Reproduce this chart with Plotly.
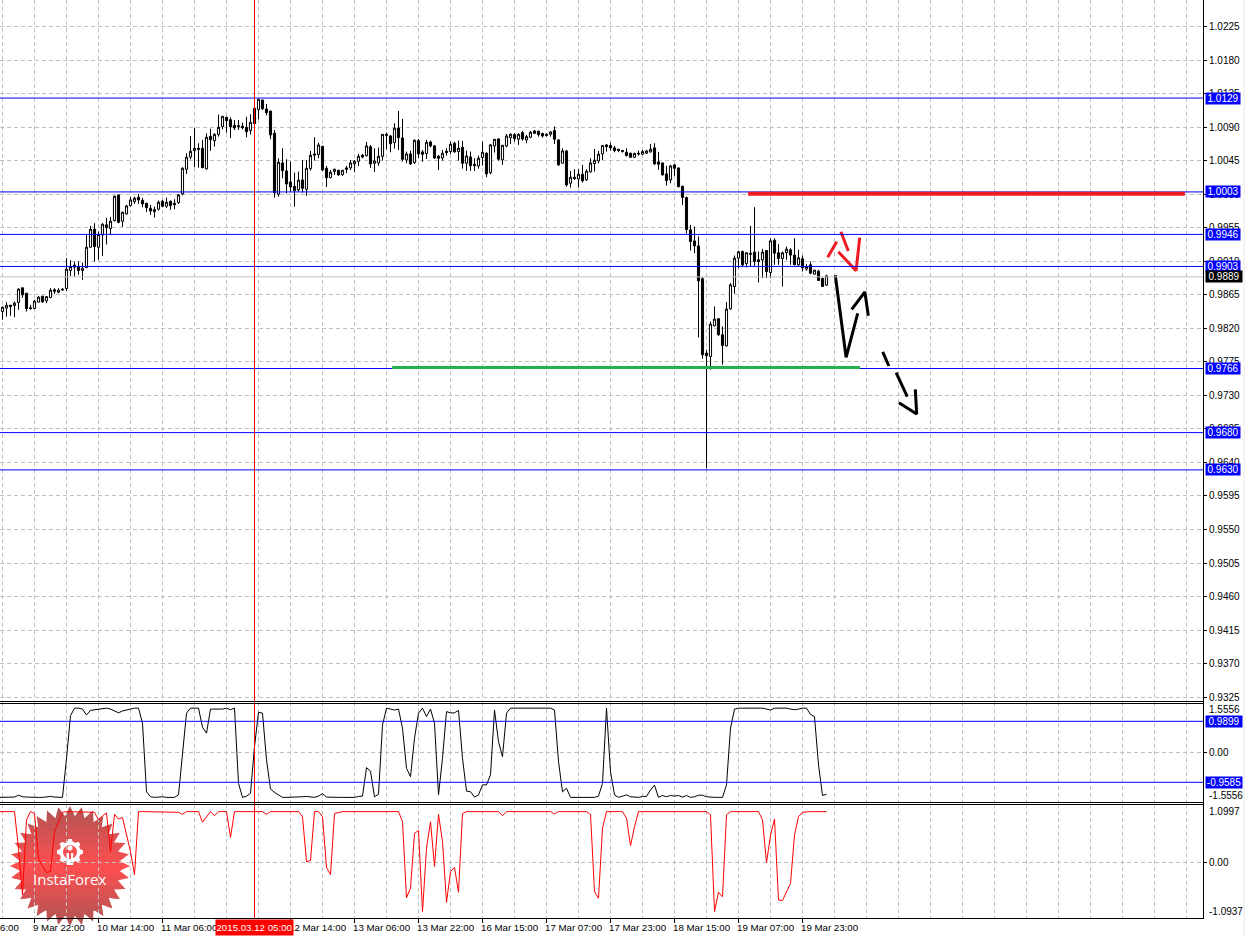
import math
import plotly.graph_objects as go

# ---- Quotes, hourly candles, in 1/10000 of a price unit ----
opens = [
9842.5,9847.0,9851.0,9850.6,9854.6,9874.3,9867.1,9847.5,9846.6,9855.1,
9863.1,9856.8,9861.3,9871.6,9868.5,9872.5,9873.4,9897.5,9904.7,9902.4,
9897.5,9901.5,9928.8,9952.9,9928.8,9945.3,9958.8,9953.8,9964.6,9999.0,
9963.7,9973.5,9984.7,9990.0,9995.9,9991.8,9987.8,9981.1,9976.6,9979.8,
9990.5,9983.8,9990.5,9987.8,9988.7,10000.3,10033.4,10049.9,10058.4,10061.6,
10061.6,10033.9,10077.7,10071.8,10079.9,10090.6,10103.1,10100.0,10092.4,10092.0,
10091.1,10089.7,10085.3,10115.2,10113.4,10126.4,10114.3,10111.6,10081.7,9999.9,
10041.9,10031.2,10016.4,10010.6,10005.7,10019.1,10006.6,10034.3,10054.0,10053.1,
10064.3,10034.8,10022.2,10030.3,10032.1,10026.3,10035.2,10035.2,10040.6,10044.1,
10052.2,10051.7,10063.8,10041.5,10041.9,10050.8,10080.3,10078.1,10069.2,10088.8,
10075.4,10045.9,10054.0,10042.4,10071.9,10056.7,10054.4,10070.1,10064.7,10050.8,
10048.6,10057.6,10057.1,10068.3,10057.1,10062.9,10041.5,10050.0,10040.1,10037.9,
10049.1,10054.9,10029.0,10064.7,10074.1,10046.0,10064.7,10075.9,10079.9,10073.7,
10082.6,10072.8,10076.4,10084.8,10084.4,10081.3,10080.4,10080.4,10085.3,10072.8,
10041.5,10058.0,10014.7,10022.7,10020.5,10026.7,10019.2,10029.9,10041.1,10044.6,
10054.0,10066.1,10065.2,10062.1,10060.3,10058.5,10056.3,10054.9,10049.5,10054.9,
10053.6,10054.9,10056.7,10062.1,10043.3,10041.9,10027.2,10019.2,10039.3,10035.2,
10010.7,9995.5,9952.1,9937.3,9930.6,9886.4,9786.7,9782.2,9823.4,9832.8,
9811.3,9796.5,9846.2,9876.1,9914.1,9923.0,9907.0,9919.0,9922.2,9911.9,
9911.9,9924.4,9894.9,9938.2,9921.3,9913.7,9921.7,9925.3,9918.2,9905.2,
9913.2,9899.4,9905.2,9892.6,9896.7,9886.8,9877.9]
highs = [
9849.2,9855.1,9851.0,9855.9,9873.8,9874.3,9867.1,9851.5,9858.2,9863.1,
9863.5,9862.6,9873.8,9873.8,9873.8,9873.8,9914.1,9911.4,9909.6,9909.6,
9908.2,9946.2,9957.4,9961.0,9949.8,9961.0,9968.1,9969.5,9998.1,9999.0,
9976.6,9985.6,9995.9,9996.7,10000.3,9995.0,9988.3,9985.6,9983.3,9991.4,
9992.3,9995.4,9991.4,9993.2,10000.3,10036.1,10054.9,10078.1,10088.8,10068.3,
10072.7,10081.7,10087.9,10081.7,10106.7,10104.9,10104.0,10103.1,10099.6,10099.6,
10096.0,10104.0,10107.2,10115.7,10127.7,10126.4,10121.0,10111.6,10086.2,10048.2,
10061.6,10046.8,10043.7,10028.9,10030.3,10045.9,10045.9,10058.0,10076.3,10069.2,
10064.7,10037.9,10032.5,10034.3,10032.5,10032.5,10037.9,10045.9,10045.9,10054.0,
10054.0,10070.1,10066.0,10061.6,10062.5,10080.8,10082.6,10079.5,10095.1,10111.6,
10100.9,10057.1,10058.4,10073.6,10074.1,10059.3,10072.8,10071.9,10066.0,10052.6,
10059.3,10061.6,10070.5,10070.5,10071.9,10071.4,10058.4,10057.1,10048.2,10051.7,
10070.5,10056.2,10067.4,10074.1,10075.0,10066.1,10080.8,10081.7,10081.7,10081.7,
10084.8,10079.5,10084.8,10086.2,10085.3,10082.6,10081.7,10084.4,10090.7,10073.7,
10061.6,10059.4,10031.2,10033.5,10033.5,10039.3,10033.5,10048.2,10060.7,10058.0,
10066.1,10067.4,10069.2,10064.7,10060.7,10059.4,10061.6,10055.8,10055.8,10058.5,
10059.4,10059.4,10067.4,10068.3,10056.7,10042.4,10037.9,10039.3,10040.2,10035.7,
10011.1,9996.8,9958.8,9956.6,9943.2,9888.6,9791.2,9829.2,9849.3,9833.6,
9822.5,9855.1,9880.6,9917.7,9924.4,9924.4,9922.2,9957.5,9982.5,9923.0,
9926.6,9924.4,9940.9,9940.9,9933.3,9923.0,9929.7,9927.5,9940.9,9925.3,
9917.7,9906.5,9909.6,9898.5,9898.5,9888.2,9891.8]
lows = [
9831.4,9835.8,9836.7,9834.9,9844.8,9860.9,9842.5,9844.8,9846.6,9854.6,
9854.2,9853.7,9860.4,9866.2,9867.1,9870.7,9869.8,9890.4,9889.5,9891.7,
9885.0,9901.5,9928.4,9909.6,9911.8,9917.2,9932.4,9945.8,9963.2,9961.0,
9956.1,9972.6,9983.3,9986.9,9986.9,9982.4,9976.2,9972.2,9968.6,9978.0,
9982.4,9981.6,9978.9,9979.8,9986.9,9998.5,10027.1,10046.8,10036.1,10035.6,
10034.7,10033.0,10058.4,10063.8,10077.2,10087.0,10082.6,10075.4,10086.2,10086.2,
10087.0,10076.3,10079.9,10094.6,10100.5,10113.0,10105.8,10073.6,9995.4,9996.7,
10021.3,10001.2,10003.5,9983.3,10003.5,10002.1,9997.7,10031.6,10045.0,10048.2,
10031.2,10009.7,10021.3,10025.8,10024.9,10024.5,10028.0,10032.5,10029.4,10037.9,
10048.2,10050.4,10035.2,10029.8,10037.9,10045.0,10060.2,10056.2,10061.1,10059.3,
10043.7,10041.5,10039.2,10040.6,10048.2,10043.7,10047.3,10062.9,10047.3,10032.5,
10045.0,10051.7,10054.0,10055.8,10045.0,10034.3,10031.2,10031.2,10031.2,10034.3,
10038.4,10022.7,10026.7,10055.8,10045.1,10039.3,10062.9,10067.4,10070.5,10066.1,
10071.9,10068.3,10075.0,10080.8,10077.2,10075.9,10077.2,10077.2,10067.4,10037.9,
10041.5,10010.2,10008.9,10019.2,10008.9,10015.6,10017.8,10029.0,10030.3,10041.5,
10046.0,10057.1,10058.5,10056.3,10056.7,10055.8,10050.4,10049.1,10048.7,10051.8,
10052.7,10054.0,10055.8,10039.3,10032.6,10025.0,10011.6,10014.7,10024.5,10008.9,
9985.6,9947.2,9924.4,9920.8,9807.7,9779.1,9632.0,9764.4,9822.5,9810.0,
9771.1,9795.6,9844.8,9866.3,9900.7,9902.9,9901.6,9902.9,9903.8,9881.5,
9887.3,9887.3,9887.3,9905.2,9905.2,9876.1,9911.9,9905.2,9905.2,9902.9,
9896.2,9897.2,9892.6,9891.8,9884.2,9876.1,9877.0]
closes = [
9848.3,9851.0,9849.2,9853.7,9872.5,9864.9,9846.6,9846.6,9856.4,9861.8,
9855.5,9862.6,9871.1,9869.8,9871.1,9871.6,9899.3,9902.9,9902.0,9897.5,
9900.6,9928.8,9952.9,9929.7,9945.8,9959.6,9955.2,9963.7,9997.2,9962.3,
9975.7,9984.2,9992.3,9994.5,9992.3,9986.9,9982.0,9977.5,9979.3,9989.2,
9983.8,9989.2,9984.7,9986.0,9999.0,10034.7,10049.5,10057.5,10061.6,10060.2,
10035.6,10076.3,10073.2,10080.3,10089.7,10104.5,10098.7,10090.6,10088.8,10090.6,
10089.3,10083.9,10096.4,10094.6,10127.3,10114.8,10109.4,10079.4,10002.1,10042.8,
10031.6,10013.7,10009.7,10004.8,10018.7,10007.9,10034.8,10052.2,10052.6,10066.0,
10032.5,10022.2,10029.4,10033.4,10025.8,10032.1,10033.4,10041.9,10044.1,10050.8,
10050.0,10064.7,10040.6,10044.6,10050.8,10080.3,10079.0,10067.8,10088.4,10075.9,
10046.8,10054.0,10040.6,10072.3,10054.0,10053.5,10069.6,10064.7,10048.6,10048.2,
10054.9,10055.8,10066.9,10056.7,10061.6,10041.5,10051.3,10038.3,10038.3,10048.2,
10056.2,10027.2,10066.1,10073.7,10046.9,10065.6,10078.1,10080.4,10074.6,10080.4,
10074.1,10077.2,10083.1,10081.7,10079.9,10078.1,10079.0,10083.5,10073.7,10039.3,
10058.0,10012.4,10022.7,10020.9,10026.7,10017.8,10030.8,10041.9,10045.5,10053.6,
10065.2,10063.8,10062.1,10058.5,10058.5,10057.6,10051.8,10049.5,10054.5,10054.0,
10057.1,10058.0,10060.3,10040.6,10040.2,10025.9,10018.3,10037.9,10034.8,10010.2,
9995.5,9952.5,9936.5,9930.6,9883.7,9784.5,9783.2,9825.6,9832.3,9811.3,
9797.0,9845.7,9878.3,9914.1,9922.6,9905.2,9921.3,9920.8,9909.6,9909.6,
9922.2,9896.2,9937.3,9920.8,9913.7,9921.3,9926.2,9918.2,9905.2,9914.6,
9901.2,9902.9,9894.0,9898.0,9884.2,9876.1,9890.4]

# ---- Upper indicator (black); starts one candle left of the first visible one ----
indicator_black = [
-1.44,
-1.44,-1.44,-1.44,-1.43,-1.37,-1.42,-1.43,-1.44,-1.44,-1.44,
-1.44,-1.43,-1.41,-1.43,-1.44,-1.44,-0.19,1.17,1.41,1.41,
1.38,1.19,1.34,1.36,1.36,1.38,1.41,1.38,1.33,1.26,
1.32,1.35,1.38,1.41,1.41,0.93,-1.26,-1.42,-1.44,-1.42,
-1.42,-1.44,-1.44,-1.44,-1.36,-0.03,1.25,1.41,1.41,1.41,
0.80,0.61,1.38,1.38,1.38,1.38,1.41,1.36,1.41,-0.99,
-1.44,-1.40,-1.31,0.18,1.28,1.25,-0.24,-1.17,-1.28,-1.36,
-1.44,-1.44,-1.44,-1.44,-1.44,-1.42,-1.41,-1.42,-1.44,-1.40,
-1.32,-1.43,-1.44,-1.44,-1.44,-1.44,-1.44,-1.44,-1.44,-1.41,
-1.40,-0.49,-0.60,-1.42,-1.34,0.87,1.41,1.38,1.35,1.38,
0.77,-0.51,-0.78,0.45,1.25,1.41,1.14,1.38,0.93,-1.36,
-0.19,1.30,1.26,1.26,1.34,-0.19,-1.24,-1.26,-1.43,-1.36,
-1.04,-1.04,-0.72,1.35,0.34,-0.14,1.25,1.41,1.41,1.41,
1.41,1.41,1.41,1.41,1.41,1.41,1.41,1.41,1.35,-0.30,
-1.26,-1.15,-1.44,-1.44,-1.44,-1.44,-1.44,-1.44,-1.44,-1.40,
-0.99,1.41,-0.62,-1.36,-1.44,-1.40,-1.36,-1.42,-1.44,-1.44,
-1.41,-1.41,-1.20,-1.05,-1.44,-1.38,-1.42,-1.38,-1.40,-1.38,
-1.43,-1.38,-1.44,-1.42,-1.37,-1.37,-1.42,-1.44,-1.44,-1.44,
-1.44,-1.04,0.77,1.38,1.41,1.41,1.41,1.41,1.41,1.41,
1.41,1.38,1.35,1.41,1.41,1.41,1.41,1.38,1.36,1.38,
1.41,1.41,1.21,1.14,-0.40,-1.38,-1.34]

# ---- Lower indicator (red); same start ----
indicator_red = [
1.10,
1.10,1.10,1.10,1.10,0.30,-0.71,0.92,1.10,1.06,0.09,
-0.09,-0.22,-0.20,0.67,0.88,1.085,1.10,1.10,1.085,1.085,
1.10,1.085,1.10,1.085,0.92,1.01,1.07,0.23,1.04,0.94,
0.97,0.59,0.23,-0.27,1.10,1.10,1.10,1.10,1.10,1.10,
1.10,1.10,1.10,1.10,1.085,1.04,1.10,1.10,1.10,1.10,
0.87,0.99,1.10,1.01,1.10,1.10,1.10,0.54,1.10,1.10,
1.10,1.10,1.10,1.10,1.10,1.10,1.04,1.10,1.10,1.10,
1.10,1.10,1.10,1.10,1.10,0.99,0.01,0.04,1.10,1.10,
0.99,-0.11,-0.27,1.06,1.08,1.10,1.10,1.10,1.10,1.10,
1.10,1.10,1.10,1.10,1.10,1.10,1.10,1.10,1.10,1.10,
0.88,-0.77,-0.56,0.63,0.69,-1.07,0.30,0.88,-0.09,1.04,
0.45,-0.87,-0.20,-0.11,-0.65,1.06,1.10,1.10,1.10,1.10,
1.10,1.10,1.10,1.10,1.10,1.01,1.10,1.10,1.10,1.10,
1.10,1.10,1.10,1.10,1.10,1.10,1.10,1.10,1.05,1.10,
1.10,1.10,1.10,1.10,1.10,1.10,1.10,1.04,-0.64,-0.78,
0.74,1.10,1.10,1.10,1.10,1.10,0.955,0.36,0.77,1.10,
1.10,1.10,1.10,1.085,1.10,1.10,1.10,1.10,1.10,1.10,
1.10,1.10,1.10,1.10,1.10,1.10,1.10,1.03,-1.07,-0.65,
-0.75,1.03,1.10,1.10,1.10,1.10,1.10,1.10,1.10,1.10,
0.92,-0.01,0.59,0.94,-0.82,-0.83,-0.64,-0.46,0.59,0.99,
1.085,1.10,1.10,1.10,1.10,1.10,1.10]

# ---- Horizontal levels and labels ----
blue_levels = [1.0129, 1.0003, 0.9946, 0.9903, 0.9766, 0.9680, 0.9630]
blue_labels = ["1.0129", "1.0003", "0.9946", "0.9903", "0.9766", "0.9680", "0.9630"]
bid_level, bid_label = 0.9889, "0.9889"
black_levels = [0.9899, -0.9585]
black_labels = ["0.9899", "-0.9585"]

# ---- Hand-drawn marks: (candle number, price) ----
red_bar = ([186.4, 295.6], [1.00007, 1.00007])
green_bar = ([97.4, 214.4], [0.97674, 0.97674])
black_strokes = [
    ([208.2, 210.9, 211.4, 213.8], [0.98911, 0.97811, 0.97909, 0.98401]),
    ([212.3, 215.6, 216.45], [0.98455, 0.98687, 0.98369]),
    ([220.05, 221.6], [0.97882, 0.97694]),
    ([223.4, 226.2], [0.97604, 0.97282]),
    ([224.1, 228.55, 228.2], [0.97201, 0.97050, 0.97381]),
]
red_strokes = [
    ([206.3, 208.55], [0.99153, 0.99362]),
    ([209.6, 211.45], [0.99496, 0.99237]),
    ([208.95, 213.4, 214.3], [0.99228, 0.98973, 0.99416]),
]

# ---- Time axis ----
time_ticks = [8, 24, 40, 72, 88, 104, 120, 136, 152, 168, 184, 200]
time_labels = ["9 Mar 22:00", "10 Mar 14:00", "11 Mar 06:00", "12 Mar 14:00", "13 Mar 06:00",
               "13 Mar 22:00", "16 Mar 15:00", "17 Mar 07:00", "17 Mar 23:00", "18 Mar 15:00",
               "19 Mar 07:00", "19 Mar 23:00"]
cursor_index, cursor_label = 63, "2015.03.12 05:00"

# ---- Layout constants (pixels of the 1245x936 page) ----
W, H = 1245, 936
PLOT_R = 1203
FONT = "Liberation Sans"
GRID = "#c0c0c0"
BLUE = "#0000ff"
RED = "#ed1c24"
GREEN = "#22b14c"


def px(x):
    return x / W


def py(y):
    return 1 - y / H


n = len(closes)
idx = list(range(n))
ind_x = [-1] + idx
fig = go.Figure()
fig.add_trace(go.Candlestick(
    x=idx,
    open=[v / 10000 for v in opens], high=[v / 10000 for v in highs],
    low=[v / 10000 for v in lows], close=[v / 10000 for v in closes],
    increasing=dict(line=dict(color="black", width=1), fillcolor="white"),
    decreasing=dict(line=dict(color="black", width=1), fillcolor="black"),
    whiskerwidth=0, xaxis="x", yaxis="y", showlegend=False))
for sx, sy in black_strokes:
    fig.add_trace(go.Scatter(x=sx, y=sy, mode="lines", line=dict(color="black", width=3),
                             xaxis="x", yaxis="y", showlegend=False))
for sx, sy in red_strokes:
    fig.add_trace(go.Scatter(x=sx, y=sy, mode="lines", line=dict(color=RED, width=3),
                             xaxis="x", yaxis="y", showlegend=False))
fig.add_trace(go.Scatter(x=ind_x, y=indicator_black, mode="lines", line=dict(color="black", width=1),
                         xaxis="x", yaxis="y2", showlegend=False))
fig.add_trace(go.Scatter(x=ind_x, y=indicator_red, mode="lines", line=dict(color="#ff0000", width=1),
                         xaxis="x", yaxis="y3", showlegend=False))

# ---- Watermark badge: a star with a vertical gradient, cut in thin bands ----
shapes = []
CX, CY, R_OUT, R_IN, TEETH = 70, 866, 60, 50, 32
star = []
for k in range(TEETH * 2):
    a = math.pi * k / TEETH - math.pi / 2
    r = R_OUT if k % 2 == 0 else R_IN
    star.append((CX + r * math.cos(a), CY + r * math.sin(a)))


def clip(poly, y0, y1):
    def cut(pts, keep, yc):
        out = []
        for j, p in enumerate(pts):
            q = pts[(j + 1) % len(pts)]
            if keep(p):
                out.append(p)
            if keep(p) != keep(q):
                t = (yc - p[1]) / (q[1] - p[1])
                out.append((p[0] + t * (q[0] - p[0]), yc))
        return out
    res = cut(poly, lambda p: p[1] >= y0, y0)
    if res:
        res = cut(res, lambda p: p[1] <= y1, y1)
    return res


def to_path(pts):
    return "M" + "L".join(f"{px(a):.5f},{py(b):.5f}" for a, b in pts) + "Z"


for b in range(30):
    y0 = CY - R_OUT + b * 4
    pts = clip(star, y0, y0 + 4.6)
    if len(pts) < 3:
        continue
    t = max(0, 1 - abs(y0 + 2 - CY) / 60)
    col = f"rgb({int(176 + 79 * t)},{int(84 - 4 * t)},{int(84 - 4 * t)})"
    shapes.append(dict(type="path", path=to_path(pts), xref="paper", yref="paper",
                       fillcolor=col, line=dict(width=0), layer="below"))

GX, GY = 70, 852
gear = []
for k in range(48):
    a = 2 * math.pi * k / 48
    r = 13 if (k % 6) in (0, 1, 5) else 10.5
    gear.append((GX + r * math.cos(a), GY + r * math.sin(a)))
inner = [(GX + 7 * math.cos(2 * math.pi * k / 24), GY + 7 * math.sin(2 * math.pi * k / 24)) for k in range(24)]
dot = [(GX + 2.6 * math.cos(2 * math.pi * k / 16), GY - 4 + 2.6 * math.sin(2 * math.pi * k / 16)) for k in range(16)]
for pts, col in [(gear, "white"), (inner, "#f85050"), (dot, "white"),
                 ([(GX - 3.2, GY + 1), (GX - 1, GY + 1), (GX - 1, GY + 13), (GX - 3.2, GY + 13)], "white"),
                 ([(GX + 1, GY + 1), (GX + 3.2, GY + 1), (GX + 3.2, GY + 13), (GX + 1, GY + 13)], "white")]:
    shapes.append(dict(type="path", path=to_path(pts), xref="paper", yref="paper",
                       fillcolor=col, line=dict(width=0), layer="below"))

# ---- Level lines ----
shapes.append(dict(type="line", xref="paper", x0=0, x1=px(PLOT_R), yref="y", y0=bid_level, y1=bid_level,
                   line=dict(color=GRID, width=1)))
for lv in blue_levels:
    shapes.append(dict(type="line", xref="paper", x0=0, x1=px(PLOT_R), yref="y", y0=lv, y1=lv,
                       line=dict(color=BLUE, width=1)))
for lv in black_levels:
    shapes.append(dict(type="line", xref="paper", x0=0, x1=px(PLOT_R), yref="y2", y0=lv, y1=lv,
                       line=dict(color=BLUE, width=1)))
# Thick hand-drawn bars lie over the level lines
shapes.append(dict(type="line", xref="x", x0=red_bar[0][0], x1=red_bar[0][1], yref="y",
                   y0=red_bar[1][0], y1=red_bar[1][1], line=dict(color=RED, width=4)))
shapes.append(dict(type="line", xref="x", x0=green_bar[0][0], x1=green_bar[0][1], yref="y",
                   y0=green_bar[1][0], y1=green_bar[1][1], line=dict(color=GREEN, width=3)))

# Cursor line, pane frames, window edge
shapes.append(dict(type="line", xref="x", x0=cursor_index, x1=cursor_index, yref="paper",
                   y0=py(918), y1=1, line=dict(color="#ff0000", width=1)))
for yy in [701.5, 703.5, 802.5, 804.5, 918.5]:
    shapes.append(dict(type="line", xref="paper", x0=0, x1=px(PLOT_R + 1), yref="paper", y0=py(yy), y1=py(yy),
                       line=dict(color="black", width=1)))
shapes.append(dict(type="line", xref="paper", x0=px(PLOT_R + .5), x1=px(PLOT_R + .5), yref="paper", y0=py(918.5), y1=1,
                   line=dict(color="black", width=1)))
shapes.append(dict(type="rect", xref="paper", x0=px(1243.5), x1=1, yref="paper", y0=0, y1=1,
                   fillcolor="#f0f0f0", line=dict(width=0)))

# ---- Annotations ----
ann = []
TF = 9.7


def box_label(text, y, yref, bg, w=34):
    ann.append(dict(text=text, xref="paper", x=px(1205), xanchor="left", yref=yref, y=y, yanchor="middle",
                    showarrow=False, bgcolor=bg, width=w, height=11, borderpad=0,
                    font=dict(family=FONT, size=10, color="white"), align="center"))


for lab, lv in zip(blue_labels, blue_levels):
    box_label(lab, lv, "y", BLUE)
box_label(bid_label, bid_level, "y", "black", 36)
for lab, lv in zip(black_labels, black_levels):
    box_label(lab, lv, "y2", BLUE, 36)

for text, yy in [("1.5556", 709.7), ("-1.5556", 795.7), ("1.0997", 811.7), ("-1.0937", 911.7)]:
    ann.append(dict(text=text, xref="paper", x=px(1207), xanchor="left", yref="paper", y=py(yy), yanchor="middle",
                    showarrow=False, font=dict(family=FONT, size=10, color="black")))

ann.append(dict(text="6:00", xref="paper", x=0, xanchor="left", yref="paper", y=py(927), yanchor="middle",
                showarrow=False, xshift=-2, font=dict(family=FONT, size=TF, color="black")))
for lab, tk in zip(time_labels, time_ticks):
    ann.append(dict(text=lab, xref="x", x=tk, xanchor="left", yref="paper", y=py(927), yanchor="middle",
                    showarrow=False, xshift=-4, font=dict(family=FONT, size=TF, color="black")))
ann.append(dict(text=cursor_label, xref="x", x=cursor_index, xanchor="center", yref="paper", y=py(927),
                yanchor="middle", showarrow=False, bgcolor="#ff0000", width=77, height=15, borderpad=0,
                font=dict(family=FONT, size=TF, color="white")))
ann.append(dict(text="InstaForex", xref="paper", x=px(70), xanchor="center", yref="paper", y=py(879), yanchor="middle",
                showarrow=False, font=dict(family="Open Sans", size=15, color="white")))

# ---- Axis ranges: pixel positions follow the scale of the terminal ----
PX_PER_CANDLE = 4
X0 = 2.5
x_range = [(0 - X0) / PX_PER_CANDLE, (PLOT_R - X0) / PX_PER_CANDLE]
PRICE_PER_PX = 0.0045 / 33.53
main_range = [0.9955 - (701 - 227.7) * PRICE_PER_PX, 0.9955 + 227.7 * PRICE_PER_PX]
DASH = "4px,3px"
grid_kw = dict(showgrid=True, gridcolor=GRID, griddash=DASH, gridwidth=1, zeroline=False)
tick_font = dict(family=FONT, size=10, color="black")

fig.update_layout(
    width=W, height=H, margin=dict(l=0, r=0, t=0, b=0, pad=0, autoexpand=False),
    paper_bgcolor="white", plot_bgcolor="rgba(0,0,0,0)", showlegend=False, boxgap=0.25,
    shapes=shapes, annotations=ann,
    xaxis=dict(domain=[0, px(PLOT_R)], range=x_range, anchor="y3", tickmode="array", tickvals=time_ticks,
               ticktext=time_labels, ticks="outside", ticklen=4, tickcolor="black", showticklabels=False,
               showgrid=False, zeroline=False, rangeslider=dict(visible=False),
               minor=dict(tickmode="linear", tick0=0, dtick=8, showgrid=True, gridcolor=GRID, griddash=DASH,
                          gridwidth=1, ticks="")),
    yaxis=dict(domain=[py(701), 1], range=main_range, anchor="x", side="right", tick0=0.9955, dtick=0.0045,
               tickformat=".4f", ticks="outside", ticklen=3, tickcolor="black", tickfont=tick_font, **grid_kw),
    yaxis2=dict(domain=[py(802.3), py(702.3)], range=[-1.597, 1.597], anchor="x", side="right", tickvals=[0],
                ticktext=["0.00"], ticks="outside", ticklen=3, tickcolor="black", tickfont=tick_font, **grid_kw),
    yaxis3=dict(domain=[py(918.3), py(804.3)], range=[-1.216, 1.259], anchor="x", side="right", tickvals=[0],
                ticktext=["0.00"], ticks="outside", ticklen=3, tickcolor="black", tickfont=tick_font, **grid_kw),
)

fig.write_html("out.html", config=dict(displayModeBar=False),
               post_script="document.body.style.margin='0';document.documentElement.style.overflow='hidden';")
